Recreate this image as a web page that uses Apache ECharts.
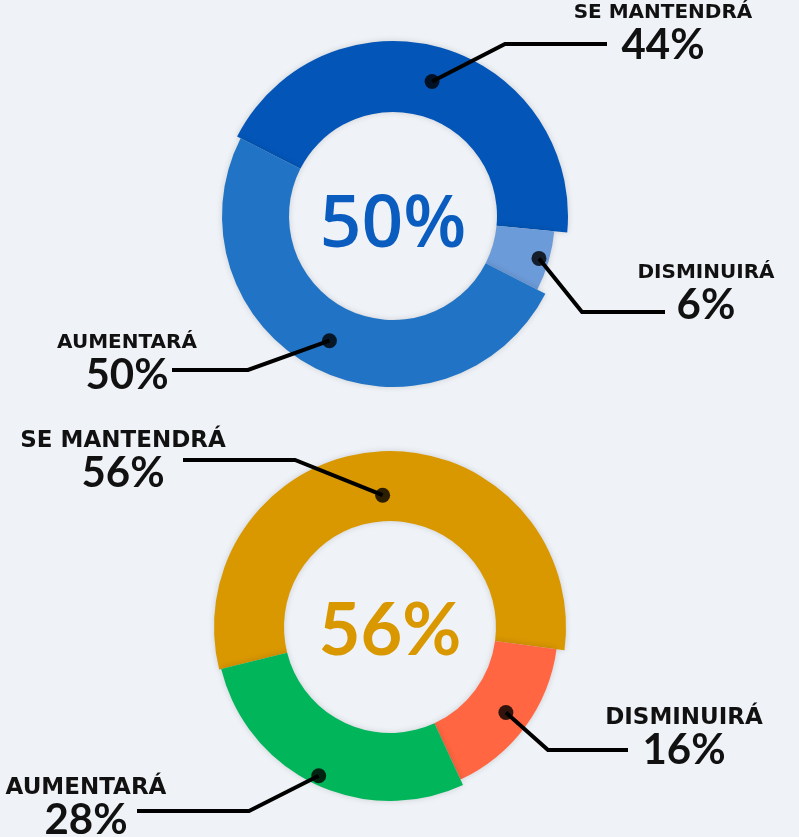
<!DOCTYPE html>
<html>
<head>
<meta charset="utf-8">
<script src="https://cdn.jsdelivr.net/npm/echarts@6/dist/echarts.min.js"></script>
<style>
  html, body { margin: 0; padding: 0; background: #eff2f6; }
  #chart { width: 799px; height: 837px; }
</style>
</head>
<body>
<div id="chart"></div>
<script>
  // data
  const categories = ['SE MANTENDRÁ', 'DISMINUIRÁ', 'AUMENTARÁ'];
  const topValues = [44, 6, 50];
  const bottomValues = [56, 16, 28];
  const topColors = ['#0356b8', '#6c9bd9', '#2174c5'];
  const bottomColors = ['#d99700', '#ff6641', '#00b55a'];
  const topCenterLabel = '50%';
  const bottomCenterLabel = '56%';

  // layout of the two donuts
  const donuts = [
    {
      values: topValues, colors: topColors, centerLabel: topCenterLabel,
      center: [393, 216], start: 153, inner: 104,
      radii: [175, 162, 171], dots: [140, 152, 140],
      textColor: '#0a5cbf', textFont: '600 73px "Open Sans"', textDy: 10, nameSize: 20,
      labels: [
        { x: 663, y: 1, elbow: [505, 44], end: [607, 44] },
        { x: 706, y: 261, elbow: [582, 312], end: [665, 312] },
        { x: 127, y: 331, elbow: [248, 370], end: [172, 370] }
      ]
    },
    {
      values: bottomValues, colors: bottomColors, centerLabel: bottomCenterLabel,
      center: [390, 627], start: 194, inner: 106,
      radii: [176, 168, 174], dots: [132, 144, 165],
      textColor: '#d99700', textFont: 'bold 72px Lato', textDy: 5, nameSize: 23,
      labels: [
        { x: 123, y: 429, elbow: [295, 460], end: [183, 460] },
        { x: 684, y: 706, elbow: [548, 750], end: [628, 750] },
        { x: 86, y: 776, elbow: [249, 811], end: [137, 811] }
      ]
    }
  ];

  const series = [];
  const polar = [], angleAxis = [], radiusAxis = [], graphic = [];
  const HELPER_R = 100;

  donuts.forEach(function (d, k) {
    const total = d.values.reduce(function (a, b) { return a + b; }, 0);

    // one ring series per slice, so every slice can have its own outer radius
    categories.forEach(function (name, i) {
      series.push({
        type: 'pie', z: 2,
        center: d.center,
        radius: [d.inner, d.radii[i]],
        startAngle: d.start,
        silent: true,
        label: { show: false }, labelLine: { show: false },
        data: categories.map(function (c, j) {
          return {
            name: c, value: d.values[j],
            itemStyle: j === i
              ? { color: d.colors[j], shadowBlur: 6, shadowColor: 'rgba(0,0,0,0.15)' }
              : { color: 'rgba(0,0,0,0)' }
          };
        })
      });
    });

    // invisible pie on top that carries the labels and leader lines
    series.push({
      type: 'pie', z: 3,
      center: d.center,
      radius: [0, HELPER_R],
      startAngle: d.start,
      silent: true,
      avoidLabelOverlap: false,
      itemStyle: { color: 'rgba(0,0,0,0)' },
      label: {
        show: true, position: 'outside',
        formatter: '{n|{b}}\n{v|{c}%}',
        rich: {
          n: { fontFamily: 'DejaVu Sans', fontWeight: 'bold', fontSize: d.nameSize, lineHeight: 24, color: '#111' },
          v: { fontFamily: 'Lato', fontWeight: 'bold', fontSize: 42, lineHeight: 40, color: '#111' }
        }
      },
      labelLine: { show: true, lineStyle: { color: '#000', width: 4 } },
      labelLayout: function (p) {
        const lay = d.labels[p.dataIndex];
        const p0 = p.labelLinePoints ? p.labelLinePoints[0] : d.center;
        const s = d.dots[p.dataIndex] / HELPER_R;
        const startPt = [d.center[0] + (p0[0] - d.center[0]) * s, d.center[1] + (p0[1] - d.center[1]) * s];
        return {
          x: lay.x, y: lay.y, align: 'center', verticalAlign: 'top',
          labelLinePoints: [startPt, lay.elbow, lay.end]
        };
      },
      data: categories.map(function (c, j) { return { name: c, value: d.values[j] }; })
    });

    // dots at the start of the leader lines
    polar.push({ center: d.center, radius: 180 });
    angleAxis.push({ polarIndex: k, type: 'value', min: 0, max: total, startAngle: d.start, clockwise: true, show: false });
    radiusAxis.push({ polarIndex: k, type: 'value', min: 0, max: 180, show: false });
    let cum = 0;
    const dotData = d.values.map(function (v, i) {
      const pt = [d.dots[i], cum + v / 2];
      cum += v;
      return pt;
    });
    series.push({
      type: 'scatter', coordinateSystem: 'polar', polarIndex: k,
      symbolSize: 15, itemStyle: { color: '#000' }, silent: true, z: 5,
      data: dotData
    });

    graphic.push({
      type: 'text', x: d.center[0], y: d.center[1] + d.textDy,
      style: { text: d.centerLabel, font: d.textFont, fill: d.textColor, align: 'center', verticalAlign: 'middle' }
    });
  });

  const chart = echarts.init(document.getElementById('chart'));
  chart.setOption({
    backgroundColor: '#eff2f6',
    animation: false,
    polar: polar,
    angleAxis: angleAxis,
    radiusAxis: radiusAxis,
    graphic: graphic,
    series: series
  });
</script>
</body>
</html>
